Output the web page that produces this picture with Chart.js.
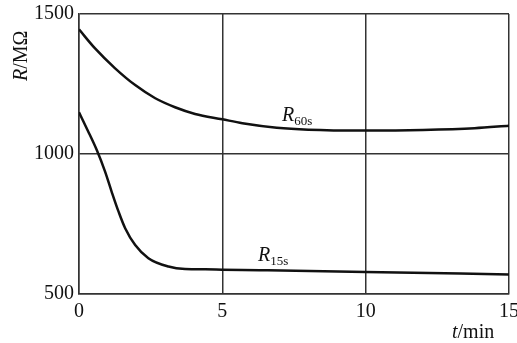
<!DOCTYPE html>
<html>
<head>
<meta charset="utf-8">
<script src="https://cdn.jsdelivr.net/npm/chart.js@4/dist/chart.umd.min.js"></script>
<style>
  html, body { margin: 0; padding: 0; background: #fff; }
  #wrap { width: 517px; height: 343px; }
</style>
</head>
<body>
<div id="wrap"><canvas id="insulationChart" width="517" height="343"></canvas></div>
<script>
// data (time in min, resistance in MOhm)
const time60 = [0, 0.56, 1.26, 1.96, 2.66, 3.35, 4.05, 5, 5.7, 6.9, 8, 10, 12, 13.8, 15];
const r60 = [1445, 1377, 1306, 1246, 1199, 1167, 1143, 1124, 1110, 1094, 1087, 1084, 1086, 1092, 1101];
const time15 = [0, 0.3, 0.62, 0.91, 1.14, 1.38, 1.61, 1.96, 2.42, 3.12, 3.7, 4.4, 5, 6.3, 10, 15];
const r15 = [1149, 1085, 1014, 937, 865, 794, 735, 675, 628, 598, 589, 588, 587, 585, 579, 570];
const xTicks = [0, 5, 10, 15];
const yTicks = [500, 1000, 1500];

const serif = "'Liberation Serif', 'DejaVu Serif', serif";
const ink = "#111";

// helper: build {x, y} points for the line datasets
function toPoints(xs, ys) {
    return xs.map((x, i) => ({ x: x, y: ys[i] }));
}

// draws axis titles and curve names (italic R with subscripts)
const labelPlugin = {
    id: "labels",
    afterDraw(chart) {
        const ctx = chart.ctx;
        ctx.save();
        ctx.fillStyle = ink;
        ctx.textBaseline = "alphabetic";

        // curve name: italic R + small subscript
        function curveName(x, y, sub) {
            ctx.font = "italic 20px " + serif;
            ctx.fillText("R", x, y);
            const w = ctx.measureText("R").width;
            ctx.font = "13px " + serif;
            ctx.fillText(sub, x + w, y + 4);
        }
        curveName(282, 121, "60s");
        curveName(258, 261, "15s");

        // x title
        ctx.font = "italic 20px " + serif;
        ctx.fillText("t", 452, 338);
        let tw = ctx.measureText("t").width;
        ctx.font = "20px " + serif;
        ctx.fillText("/min", 452 + tw, 338);

        // y title, rotated
        ctx.translate(27, 81);
        ctx.rotate(-Math.PI / 2);
        ctx.font = "italic 20px " + serif;
        ctx.fillText("R", 0, 0);
        tw = ctx.measureText("R").width;
        ctx.font = "20px " + serif;
        ctx.fillText("/MΩ", tw, 0);
        ctx.restore();
    }
};

const ctx = document.getElementById("insulationChart").getContext("2d");
const chart = new Chart(ctx, {
    type: "line",
    data: {
        datasets: [
            {
                label: "R60s",
                data: toPoints(time60, r60),
                borderColor: ink,
                borderWidth: 2.5,
                pointRadius: 0,
                cubicInterpolationMode: "monotone",
                fill: false
            },
            {
                label: "R15s",
                data: toPoints(time15, r15),
                borderColor: ink,
                borderWidth: 2.5,
                pointRadius: 0,
                cubicInterpolationMode: "monotone",
                fill: false
            }
        ]
    },
    options: {
        responsive: false,
        animation: false,
        layout: {
            padding: { top: 14, right: 8, left: 0, bottom: 0 }
        },
        plugins: {
            legend: { display: false },
            tooltip: { enabled: false }
        },
        scales: {
            x: {
                type: "linear",
                min: 0,
                max: 15,
                afterBuildTicks: (scale) => {
                    scale.ticks = xTicks.map(v => ({ value: v }));
                },
                afterFit: (scale) => {
                    scale.height = 49;
                    scale.paddingLeft = 0;
                    scale.paddingRight = 0;
                },
                grid: {
                    color: "#333",
                    lineWidth: 1.5,
                    drawTicks: false
                },
                border: { display: true, color: "#333", width: 1.5 },
                ticks: {
                    color: ink,
                    padding: 6,
                    maxRotation: 0,
                    font: { family: serif, size: 20 },
                    callback: (v) => String(v)
                }
            },
            y: {
                type: "linear",
                min: 500,
                max: 1500,
                afterBuildTicks: (scale) => {
                    scale.ticks = yTicks.map(v => ({ value: v }));
                },
                afterFit: (scale) => {
                    scale.width = 79;
                    scale.paddingTop = 0;
                    scale.paddingBottom = 0;
                },
                grid: {
                    color: "#333",
                    lineWidth: 1.5,
                    drawTicks: false
                },
                border: { display: true, color: "#333", width: 1.5 },
                ticks: {
                    color: ink,
                    padding: 5,
                    font: { family: serif, size: 20 },
                    callback: (v) => String(v)
                }
            }
        }
    },
    plugins: [labelPlugin]
});
</script>
</body>
</html>
